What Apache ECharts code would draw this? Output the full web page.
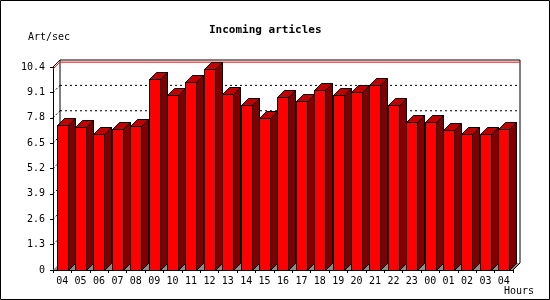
<!DOCTYPE html>
<html>
<head>
<meta charset="utf-8">
<script src="https://cdn.jsdelivr.net/npm/echarts@6/dist/echarts.min.js"></script>
<style>
html,body{margin:0;padding:0;background:#fff;}
#chart{width:550px;height:300px;}
</style>
</head>
<body>
<div id="chart"></div>
<script>
const hours = ['04','05','06','07','08','09','10','11','12','13','14','15','16','17','18','19','20','21','22','23','00','01','02','03','04'];
const artPerSec = [7.42,7.32,6.96,7.21,7.37,9.78,8.97,9.62,10.29,9.03,8.44,7.78,8.86,8.65,9.21,8.96,9.11,9.47,8.44,7.57,7.57,7.16,6.96,6.96,7.21];
const yTicks = [0,1.3,2.6,3.9,5.2,6.5,7.8,9.1,10.4];
const titleText = 'Incoming articles';
const yName = 'Art/sec';
const xName = 'Hours';

const D = 7; // 3D depth offset
const FONT = 'DejaVu Sans Mono';
const maxVal = Math.max.apply(null, artPerSec);

const chart = echarts.init(document.getElementById('chart'), null, {renderer:'canvas'});

function wallItem(params, api){
  const cs = params.coordSys;
  const v = api.value(0);
  const p = api.coord([0, v]);
  const y = p[1];
  const L = cs.x, R = cs.x + cs.width, T = cs.y, B = cs.y + cs.height;
  const children = [];
  if (params.dataIndex === 0){
    children.push({type:'polygon', shape:{points:[[L,B],[L+D,B-D],[R+D,B-D],[R,B]]}, style:{fill:'#8c8c8c', stroke:null}});
    children.push({type:'polyline', shape:{points:[[L,T],[L+D,T-D],[R+D,T-D],[R+D,B-D],[R,B]]}, style:{stroke:'#000', lineWidth:1, fill:null}});
    children.push({type:'line', shape:{x1:L+D,y1:T-D,x2:L+D,y2:B-D}, style:{stroke:'#000', lineWidth:1}});
    const my = api.coord([0, maxVal])[1];
    children.push({type:'polyline', shape:{points:[[L,my],[L+D,my-D],[R+D,my-D]]}, style:{stroke:'#ff0000', lineWidth:1, fill:null}});
  }
  if (v > 0 && y > T + 1){
    children.push({type:'line', shape:{x1:L+D,y1:y-D,x2:R+D,y2:y-D}, style:{stroke:'#000', lineWidth:1, lineDash:[2,3]}});
    children.push({type:'line', shape:{x1:L,y1:y,x2:L+D,y2:y-D}, style:{stroke:'#000', lineWidth:1, lineDash:[2,2]}});
  }
  return {type:'group', children:children};
}

function barItem(params, api){
  const i = api.value(0), v = api.value(1);
  const top = api.coord([i, v]);
  const base = api.coord([i, 0]);
  const bw = api.size([1, 0])[0] * 0.6;
  const x0 = Math.round(top[0] - bw/2) + 0.5;
  const x1 = x0 + Math.round(bw);
  const yt = Math.round(top[1]) + 0.5;
  const yb = Math.round(base[1]) + 0.5;
  const st = {stroke:'#000', lineWidth:1};
  return {type:'group', children:[
    {type:'polygon', shape:{points:[[x1,yt],[x1+D,yt-D],[x1+D,yb-D],[x1,yb]]}, style:Object.assign({fill:'#800000'}, st)},
    {type:'polygon', shape:{points:[[x0,yt],[x0+D,yt-D],[x1+D,yt-D],[x1,yt]]}, style:Object.assign({fill:'#c00000'}, st)},
    {type:'rect', shape:{x:x0, y:yt, width:x1-x0, height:yb-yt}, style:Object.assign({fill:'#ff0000'}, st)}
  ]};
}

chart.setOption({
  animation:false,
  backgroundColor:'#fff',
  title:{text:titleText, left:204, top:20, textStyle:{fontFamily:FONT, fontSize:11, fontWeight:'bold', color:'#000'}},
  grid:{left:53, right:37, top:67, bottom:30},
  xAxis:{type:'category', data:hours, boundaryGap:true,
    axisLine:{show:true, lineStyle:{color:'#000', width:1}},
    axisTick:{show:true, length:3, lineStyle:{color:'#000'}},
    axisLabel:{color:'#000', fontFamily:FONT, fontSize:10, margin:6, interval:0},
    splitLine:{show:false}},
  yAxis:{type:'value', min:0, max:10.4, interval:1.3,
    axisLine:{show:true, lineStyle:{color:'#000', width:1}},
    axisTick:{show:true, length:3, lineStyle:{color:'#000'}},
    axisLabel:{color:'#000', fontFamily:FONT, fontSize:10, margin:8, formatter:function(v){return yTicks.indexOf(Math.round(v*10)/10)>=0 ? String(Math.round(v*10)/10) : '';}},
    splitLine:{show:false}},
  graphic:[
    {type:'rect', shape:{x:0.5, y:0.5, width:549, height:299}, style:{fill:null, stroke:'#000', lineWidth:1}, z:100},
    {type:'text', left:28, top:32, style:{text:yName, fontFamily:FONT, fontSize:10, fill:'#000'}},
    {type:'text', left:504, top:286, style:{text:xName, fontFamily:FONT, fontSize:10, fill:'#000'}}
  ],
  series:[
    {type:'custom', z:1, renderItem:wallItem, data:yTicks.map(function(t){return [t];}), silent:true},
    {type:'custom', z:3, renderItem:barItem, data:artPerSec.map(function(v,i){return [i,v];}), encode:{x:0,y:1}, silent:true}
  ]
});
</script>
</body>
</html>
